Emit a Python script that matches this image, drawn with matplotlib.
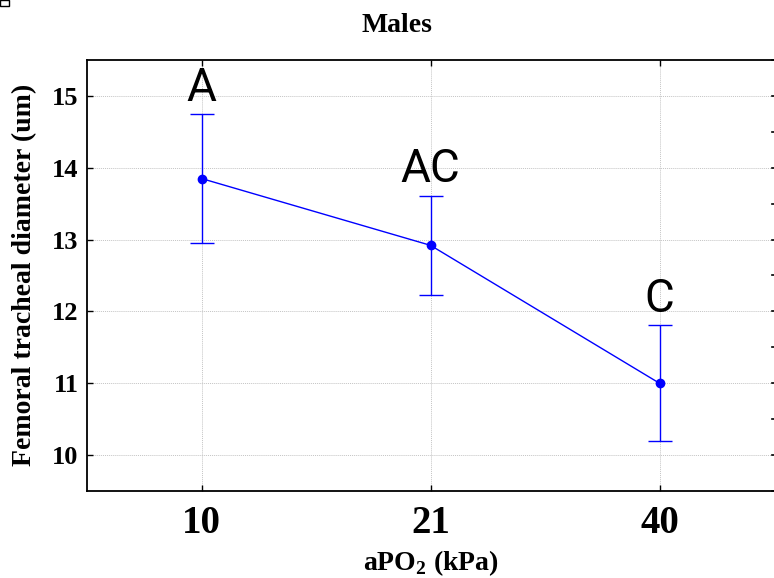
import numpy as np
import matplotlib.pyplot as plt
from matplotlib.patches import Rectangle

# Mean femoral tracheal diameter per oxygen level, with error bars
po2_levels = ['10', '21', '40']
mean_diam = [13.85, 12.92, 11.00]
err_diam = [0.90, 0.69, 0.81]
group_letters = ['A', 'AC', 'C']

blue = '#0000ff'
serif = ['Liberation Serif', 'DejaVu Serif']
plt.rcParams['mathtext.fontset'] = 'custom'
plt.rcParams['mathtext.bf'] = 'Liberation Serif:bold'
plt.rcParams['mathtext.rm'] = 'Liberation Serif'

fig = plt.figure(figsize=(7.74, 5.78), dpi=100)
ax = fig.add_axes([87 / 774, 1 - 491 / 578, 1 - 87 / 774, (491 - 60) / 578])

x = np.arange(len(po2_levels))
ax.errorbar(x, mean_diam, yerr=err_diam, color=blue, lw=1.0, marker='o',
            markersize=6, capsize=8.5, capthick=1.0, elinewidth=1.0)

for xi, m, e, lab in zip(x, mean_diam, err_diam, group_letters):
    ax.text(xi, m + e + 0.06, lab, ha='center', va='bottom', fontsize=33,
            family=['Liberation Sans Narrow', 'Roboto', 'DejaVu Sans'])

ax.set_xlim(-0.5, 2.5)
ax.set_ylim(9.5, 15.5)
ax.set_xticks(x)
ax.set_xticklabels(po2_levels, fontsize=28, fontweight='bold', family=serif)
ax.set_yticks([10, 11, 12, 13, 14, 15])
ax.set_yticklabels(['10', '11', '12', '13', '14', '15'], fontsize=19,
                   fontweight='bold', family=serif)
ax.tick_params(direction='in', length=4, width=1.0, top=True, right=False)
ax.tick_params(axis='x', pad=10)
ax.tick_params(axis='y', pad=6)

# short tick marks along the right edge every half unit
for yv in np.arange(9.5, 15.51, 0.5):
    ax.plot([2.49, 2.5], [yv, yv], color='black', lw=1.2, clip_on=False)

ax.grid(True, color='#c4c4c4', linestyle=(0, (1, 1)), lw=0.7)
ax.spines['right'].set_visible(False)
for sp in ax.spines.values():
    sp.set_linewidth(1.3)

fig.text(397 / 774, 1 - 25 / 578, 'Males', ha='center', va='center',
         fontsize=20, fontweight='bold', family=serif)
fig.text(431 / 774, 1 - 563 / 578, r'aPO$_\mathbf{2}$ (kPa)', ha='center',
         va='center', fontsize=20, fontweight='bold', family=serif)
fig.text(25 / 774, 1 - 275 / 578, 'Femoral tracheal diameter (um)',
         rotation=90, ha='center', va='center', fontsize=20,
         fontweight='bold', family=serif)

fig.patches.append(Rectangle((0, 1 - 6 / 578), 9 / 774, 6 / 578,
                             transform=fig.transFigure, fill=False,
                             edgecolor='black', lw=1.0))

fig.savefig('out.png', dpi=100)
